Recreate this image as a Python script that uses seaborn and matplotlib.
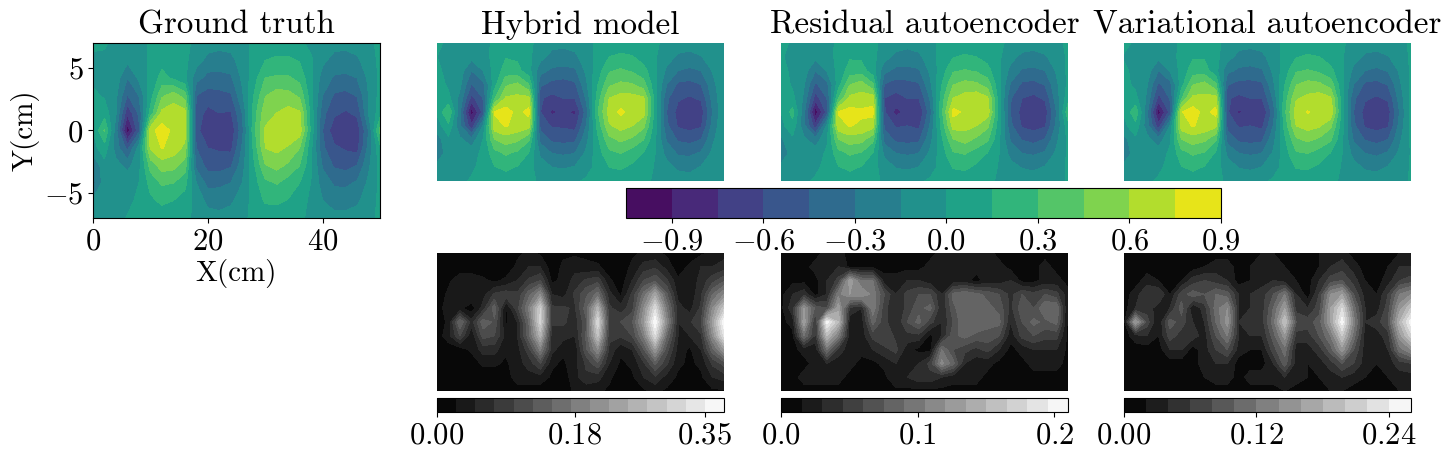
import numpy as np
import seaborn as sns
import matplotlib
matplotlib.use("Agg")
import matplotlib.pyplot as plt

x_cm = list(range(0, 51, 2))
y_cm = [7, 5.6, 4.2, 2.8, 1.4, 0, -1.4, -2.8, -4.2, -5.6, -7]

truth = [
    [5, 3, -7, -10, -8, 3, 4, 5, 4, -4, -8, -10, -9, -6, 3, 5, 6, 5, 3, -4, -8, -10, -10, -8, -4, 4],
    [-5, -5, -8, -12, -8, 3, 10, 8, 3, -8, -20, -22, -20, -8, 5, 15, 18, 18, 14, 2, -12, -20, -22, -18, -7, 3],
    [-3, -3, -8, -30, -12, 5, 20, 12, 3, -25, -35, -35, -33, -12, 8, 30, 32, 32, 25, 3, -22, -32, -33, -30, -12, 3],
    [3, -2, -12, -46, -30, 8, 42, 52, 38, -45, -52, -50, -47, -18, 15, 44, 52, 50, 42, 5, -30, -47, -50, -44, -15, 5],
    [5, 8, -14, -72, -42, 20, 64, 70, 66, -52, -65, -60, -62, -30, 22, 54, 60, 66, 62, 8, -40, -57, -62, -57, -15, 8],
    [0, 32, -24, -100, -50, 70, 82, 72, 68, -55, -72, -72, -72, -35, 24, 62, 70, 72, 68, 10, -45, -70, -72, -70, -30, 35],
    [-5, 8, -22, -50, -8, 62, 76, 68, 56, -45, -60, -62, -64, -28, 18, 60, 64, 58, 45, 3, -42, -57, -62, -66, -25, 10],
    [-30, -5, -10, -20, -5, 36, 52, 50, 38, -35, -50, -52, -47, -22, 12, 44, 50, 42, 30, 2, -32, -47, -50, -45, -18, 5],
    [-35, -8, -5, -5, 0, 20, 32, 30, 20, -15, -35, -33, -30, -15, 8, 26, 31, 23, 15, -1, -22, -32, -33, -28, -12, 3],
    [-12, -8, -5, -4, 3, 12, 18, 15, 8, -5, -20, -22, -18, -8, 5, 17, 18, 14, 6, -3, -15, -22, -22, -18, -7, 3],
    [-5, -5, -5, 1, 5, 7, 7, 5, 3, -3, -8, -10, -8, -3, 3, 6, 6, 5, 3, -4, -8, -10, -10, -8, -4, 3],
]

hybrid = [
    [3, -3, -6, -8, -5, 3, 5, 5, 3, -5, -10, -12, -10, -5, 3, 5, 6, 5, 3, 3, -5, -6, -8, -6, -5, -4],
    [0, -4, -7, -10, -6, 4, 14, 12, 3, -10, -20, -20, -18, -8, 5, 15, 18, 16, 8, 1, -8, -18, -20, -16, -8, -4],
    [2, -3, -8, -30, -15, 5, 22, 20, 5, -25, -33, -35, -33, -12, 8, 28, 32, 28, 20, 3, -18, -30, -33, -30, -14, -4],
    [8, -3, -12, -46, -35, 8, 42, 48, 30, -42, -50, -52, -48, -18, 14, 42, 48, 46, 36, 4, -30, -48, -50, -45, -20, -3],
    [14, 4, -20, -66, -45, 28, 62, 64, 64, -58, -65, -60, -60, -28, 22, 60, 66, 66, 62, 8, -42, -58, -62, -58, -25, -3],
    [2, 30, -28, -98, -55, 76, 82, 70, 80, -60, -78, -72, -78, -38, 28, 66, 78, 70, 66, 8, -45, -66, -70, -68, -30, -2],
    [-8, 12, -28, -72, -15, 70, 76, 70, 66, -50, -62, -62, -66, -30, 20, 58, 66, 60, 48, 5, -42, -62, -66, -62, -25, -2],
    [-22, -4, -12, -24, 0, 44, 52, 48, 32, -35, -48, -50, -48, -20, 12, 40, 48, 42, 30, 2, -32, -47, -50, -45, -18, -2],
    [-25, -8, -6, -6, 3, 24, 32, 26, 14, -18, -30, -32, -30, -12, 8, 26, 30, 22, 14, 0, -20, -32, -33, -28, -12, -2],
    [-10, -7, -5, -3, 5, 14, 18, 14, 5, -8, -15, -17, -14, -6, 5, 15, 17, 12, 5, -1, -10, -18, -20, -14, -6, -2],
    [-5, -5, -4, 2, 5, 7, 8, 6, 3, -2, -3, -3, -2, 2, 4, 6, 6, 4, 3, -2, -4, -7, -8, -5, -3, -2],
]

residual = [
    [4, -2, -6, -9, -5, 3, 5, 5, 3, -4, -8, -10, -9, -4, 3, 5, 6, 5, 4, 3, -4, -7, -8, -6, -4, 3],
    [1, -3, -7, -11, -6, 4, 13, 12, 4, -9, -19, -22, -18, -8, 6, 14, 17, 15, 9, 2, -10, -19, -21, -17, -8, 2],
    [3, -2, -8, -30, -14, 5, 22, 22, 6, -26, -34, -34, -32, -12, 8, 28, 31, 28, 20, 2, -20, -32, -33, -30, -13, 3],
    [8, -2, -14, -48, -34, 8, 44, 52, 32, -46, -52, -50, -47, -18, 14, 44, 50, 48, 38, 3, -32, -48, -50, -44, -18, 3],
    [6, 4, -18, -68, -45, 30, 64, 66, 68, -60, -66, -60, -60, -28, 22, 60, 66, 70, 62, 6, -44, -60, -64, -58, -22, 8],
    [0, 20, -26, -100, -55, 76, 80, 78, 80, -58, -80, -70, -74, -36, 26, 80, 72, 70, 68, 8, -46, -66, -70, -68, -30, 25],
    [-5, 10, -26, -70, -12, 70, 76, 72, 66, -48, -62, -60, -64, -28, 20, 66, 66, 60, 48, 5, -42, -62, -66, -62, -26, 8],
    [-18, -4, -12, -24, -2, 44, 52, 50, 34, -36, -48, -50, -48, -20, 12, 44, 50, 42, 32, 2, -32, -46, -50, -44, -18, 3],
    [-30, -6, -5, -6, 2, 24, 32, 28, 14, -18, -30, -32, -30, -12, 8, 28, 31, 23, 14, 0, -20, -30, -32, -28, -12, 2],
    [-10, -6, -4, -3, 4, 14, 18, 14, 6, -8, -16, -18, -15, -6, 5, 16, 18, 12, 5, -1, -10, -16, -18, -14, -6, 2],
    [-4, -4, -3, 2, 5, 7, 8, 6, 3, -2, -3, -4, -2, 2, 4, 6, 6, 4, 3, -2, -4, -6, -7, -5, -3, 1],
]

variational = [
    [3, -2, -6, -9, -6, 3, 5, 5, 3, -4, -9, -11, -9, -5, 3, 5, 6, 5, 3, 2, -5, -7, -8, -6, -4, 2],
    [-1, -3, -7, -11, -6, 4, 13, 13, 4, -9, -20, -21, -19, -8, 5, 14, 17, 15, 8, 1, -9, -18, -20, -16, -7, 2],
    [2, -3, -8, -30, -14, 5, 23, 22, 5, -26, -33, -35, -32, -12, 8, 28, 31, 27, 19, 2, -19, -30, -33, -29, -13, 2],
    [4, -3, -14, -48, -36, 8, 44, 50, 32, -44, -50, -50, -48, -18, 14, 44, 50, 48, 38, 3, -30, -48, -50, -44, -18, 2],
    [3, 4, -18, -66, -44, 28, 64, 64, 66, -58, -64, -60, -60, -28, 22, 58, 64, 68, 62, 6, -42, -58, -62, -58, -24, 4],
    [1, 26, -26, -98, -55, 74, 82, 70, 80, -58, -78, -68, -76, -38, 26, 68, 76, 70, 72, 8, -45, -66, -70, -67, -30, 6],
    [-4, 10, -24, -70, -15, 68, 76, 70, 64, -50, -62, -60, -64, -30, 20, 60, 66, 62, 48, 5, -42, -62, -66, -62, -25, 3],
    [-20, -4, -10, -24, -2, 44, 52, 48, 32, -36, -48, -50, -48, -20, 12, 42, 48, 42, 32, 2, -32, -46, -50, -45, -18, 2],
    [-28, -6, -5, -6, 2, 24, 32, 28, 12, -18, -30, -32, -30, -13, 8, 28, 30, 23, 14, 0, -20, -30, -33, -28, -12, 1],
    [-10, -6, -4, -3, 4, 14, 18, 14, 6, -8, -16, -18, -15, -6, 5, 16, 17, 12, 5, -1, -10, -17, -19, -14, -6, 1],
    [-4, -4, -3, 2, 5, 7, 8, 6, 3, -2, -4, -5, -3, 2, 4, 6, 6, 4, 3, -2, -4, -7, -8, -5, -3, 1],
]

hybrid_err = [
    [1, 1, 1, 1, 1, 1, 1, 2, 3, 2, 1, 2, 2, 2, 1, 1, 1, 2, 3, 3, 2, 1, 1, 2, 3, 4],
    [1, 1, 1, 1, 1, 1, 1, 3, 5, 5, 1, 3, 4, 3, 3, 1, 1, 3, 6, 7, 4, 1, 3, 5, 5, 6],
    [1, 2, 4, 4, 3, 2, 3, 5, 8, 10, 2, 3, 6, 8, 9, 3, 1, 5, 10, 12, 8, 3, 3, 6, 9, 12],
    [1, 3, 5, 5, 4, 8, 9, 8, 14, 20, 5, 4, 8, 12, 16, 6, 2, 8, 16, 24, 13, 4, 3, 7, 15, 20],
    [1, 4, 3, 1, 6, 14, 2, 9, 18, 30, 8, 8, 7, 14, 26, 8, 6, 9, 20, 32, 17, 6, 4, 8, 20, 29],
    [1, 3, 15, 6, 14, 12, 2, 5, 15, 31, 8, 8, 6, 12, 32, 9, 10, 12, 22, 37, 20, 5, 7, 10, 23, 37],
    [1, 4, 10, 3, 11, 10, 4, 5, 14, 26, 6, 6, 5, 13, 28, 8, 8, 10, 18, 32, 15, 5, 5, 7, 20, 33],
    [1, 1, 1, 3, 6, 6, 3, 4, 9, 18, 6, 3, 3, 12, 20, 7, 3, 5, 12, 22, 11, 4, 2, 5, 14, 22],
    [1, 1, 1, 1, 3, 3, 2, 4, 6, 10, 3, 2, 4, 8, 12, 5, 2, 3, 7, 13, 8, 3, 2, 3, 8, 11],
    [1, 1, 1, 1, 1, 1, 1, 4, 4, 4, 2, 1, 4, 7, 6, 3, 1, 2, 5, 7, 4, 2, 1, 2, 5, 6],
    [1, 1, 1, 1, 1, 1, 1, 1, 1, 1, 1, 1, 3, 3, 3, 2, 1, 1, 2, 3, 2, 1, 1, 1, 2, 2],
]

residual_err = [
    [1, 1, 1, 1, 2, 2, 1, 1, 1, 1, 1, 1, 1, 1, 2, 3, 3, 3, 2, 1, 1, 1, 1, 1, 1, 1],
    [1, 1, 1, 2, 3, 3, 1, 1, 1, 1, 1, 1, 1, 2, 3, 2, 2, 2, 3, 2, 1, 1, 1, 2, 1, 1],
    [1, 1, 1, 1, 3, 5, 13, 9, 9, 2, 2, 3, 3, 2, 3, 2, 2, 1, 2, 2, 3, 1, 1, 2, 2, 1],
    [1, 3, 4, 1, 3, 10, 12, 12, 10, 6, 3, 5, 6, 6, 3, 8, 9, 8, 7, 6, 4, 6, 5, 6, 5, 2],
    [1, 4, 12, 7, 6, 13, 4, 3, 10, 5, 3, 5, 7, 8, 3, 7, 9, 9, 8, 7, 4, 7, 6, 9, 9, 1],
    [1, 2, 13, 4, 20, 15, 2, 2, 8, 5, 3, 6, 8, 5, 3, 6, 9, 9, 8, 8, 3, 6, 8, 7, 8, 1],
    [1, 1, 9, 4, 15, 10, 2, 2, 5, 6, 4, 4, 4, 1, 3, 7, 8, 7, 7, 6, 2, 5, 6, 5, 5, 1],
    [1, 1, 2, 2, 9, 4, 2, 2, 3, 4, 5, 2, 1, 1, 9, 6, 5, 4, 5, 3, 1, 2, 3, 3, 3, 1],
    [1, 1, 1, 2, 3, 2, 2, 1, 1, 2, 3, 3, 3, 5, 11, 8, 3, 2, 2, 1, 1, 1, 2, 2, 2, 1],
    [1, 1, 2, 2, 2, 2, 1, 1, 1, 1, 3, 3, 4, 4, 3, 2, 2, 2, 1, 1, 1, 1, 1, 1, 1, 1],
    [1, 1, 1, 1, 1, 1, 1, 1, 1, 1, 1, 1, 1, 1, 1, 1, 1, 1, 1, 1, 1, 1, 1, 1, 1, 1],
]

variational_err = [
    [1, 1, 1, 1, 1, 1, 1, 1, 1, 1, 1, 1, 2, 2, 1, 1, 1, 2, 3, 3, 1, 1, 1, 2, 2, 2],
    [1, 1, 1, 1, 1, 1, 1, 2, 3, 3, 1, 2, 3, 3, 2, 1, 1, 2, 4, 5, 3, 1, 1, 2, 4, 4],
    [1, 1, 3, 2, 1, 2, 5, 6, 5, 4, 1, 2, 3, 4, 3, 2, 1, 4, 7, 8, 5, 2, 1, 3, 6, 7],
    [1, 3, 6, 6, 2, 7, 9, 8, 10, 9, 4, 4, 5, 8, 12, 4, 1, 6, 14, 16, 8, 3, 2, 6, 12, 14],
    [1, 4, 5, 3, 4, 9, 2, 5, 11, 14, 4, 4, 5, 10, 16, 5, 4, 7, 16, 22, 11, 4, 3, 7, 15, 20],
    [1, 16, 7, 2, 9, 7, 4, 4, 10, 15, 4, 6, 5, 11, 20, 8, 7, 9, 16, 25, 13, 4, 5, 8, 18, 25],
    [1, 3, 4, 2, 7, 5, 5, 3, 8, 12, 4, 4, 4, 9, 15, 5, 5, 8, 12, 20, 11, 3, 3, 5, 15, 21],
    [1, 1, 1, 1, 4, 4, 1, 3, 6, 8, 3, 2, 2, 7, 11, 3, 3, 5, 9, 15, 8, 3, 2, 4, 11, 14],
    [1, 1, 1, 1, 1, 1, 1, 3, 4, 4, 1, 1, 1, 4, 9, 3, 2, 3, 5, 8, 6, 3, 2, 3, 5, 6],
    [1, 1, 1, 1, 1, 1, 1, 2, 3, 3, 1, 3, 3, 3, 4, 3, 2, 2, 3, 4, 3, 2, 1, 2, 3, 3],
    [1, 1, 1, 1, 1, 1, 1, 1, 1, 1, 1, 1, 1, 1, 2, 1, 1, 1, 2, 2, 1, 1, 1, 1, 2, 2],
]

titles = ["Hybrid model", "Residual autoencoder", "Variational autoencoder"]
field_levels = [-1.05, -0.9, -0.75, -0.6, -0.45, -0.3, -0.15, 0.0, 0.15, 0.3, 0.45, 0.6, 0.75, 0.9]
field_ticks = [-0.9, -0.6, -0.3, 0.0, 0.3, 0.6, 0.9]
err_steps = [(0.025, 15), (0.015, 14), (0.02, 13)]
err_ticks = [[0.0, 0.18, 0.35], [0.0, 0.1, 0.2], [0.0, 0.12, 0.24]]
err_labels = [["0.00", "0.18", "0.35"], ["0.0", "0.1", "0.2"], ["0.00", "0.12", "0.24"]]

sns.set_style("ticks", {"text.color": "black", "axes.labelcolor": "black", "axes.edgecolor": "black",
                        "xtick.color": "black", "ytick.color": "black"})
plt.rcParams["font.family"] = ["cmr10", "DejaVu Sans"]
plt.rcParams["mathtext.fontset"] = "cm"
plt.rcParams["axes.unicode_minus"] = False
plt.rcParams["axes.formatter.use_mathtext"] = True
plt.rcParams["axes.linewidth"] = 0.8
plt.rcParams["xtick.major.width"] = 0.8
plt.rcParams["ytick.major.width"] = 0.8
plt.rcParams["xtick.major.size"] = 3.5
plt.rcParams["ytick.major.size"] = 3.5

W, H = 1450, 459
TITLE = 23.8
TICK = 22
LABEL = 21


def axes_px(fig, x0, y0, x1, y1):
    """Add axes from pixel corners (y counted from the top)"""
    return fig.add_axes([x0 / W, 1 - y1 / H, (x1 - x0) / W, (y1 - y0) / H])


def sampled(name, n):
    cmap = sns.color_palette(name, as_cmap=True)
    return [cmap((i + 0.5) / n) for i in range(n)]


def draw_field(ax, values, levels, colors):
    cs = ax.contourf(x_cm, y_cm, np.array(values) / 100, levels=levels, colors=colors)
    ax.set_xlim(0, 50)
    ax.set_ylim(-7, 7)
    return cs


def math_labels(ticks, fmt="%.1f"):
    return ["$" + (fmt % t) + "$" for t in ticks]


fig = plt.figure(figsize=(W / 100, H / 100), dpi=100)
viridis = sampled("viridis", 13)

ax = axes_px(fig, 93, 43, 380, 218)
cs = draw_field(ax, truth, field_levels, viridis)
ax.set_title("Ground truth", fontsize=TITLE, pad=6.5)
ax.set_xticks([0, 20, 40], ["$0$", "$20$", "$40$"], fontsize=TICK)
ax.set_yticks([-5, 0, 5], ["$-5$", "$0$", "$5$"], fontsize=TICK)
ax.set_xlabel("X(cm)", fontsize=LABEL, labelpad=3)
ax.set_ylabel("Y(cm)", fontsize=LABEL, labelpad=3)

top_left = [437, 781, 1124]
fields = [hybrid, residual, variational]
errors = [hybrid_err, residual_err, variational_err]
for i in range(3):
    x0 = top_left[i]
    ax = axes_px(fig, x0, 43, x0 + 287, 181)
    draw_field(ax, fields[i], field_levels, viridis)
    ax.set_title(titles[i], fontsize=TITLE, pad=6.5)
    ax.axis("off")

    step, n = err_steps[i]
    levels = [step * k for k in range(n + 1)]
    ax = axes_px(fig, x0, 253, x0 + 287, 391)
    err_cs = draw_field(ax, errors[i], levels, sampled("gray", n))
    ax.axis("off")

    cax = axes_px(fig, x0, 398, x0 + 287, 412)
    cbar = fig.colorbar(err_cs, cax=cax, orientation="horizontal", ticks=err_ticks[i])
    cbar.ax.set_xticklabels(["$" + s + "$" for s in err_labels[i]], fontsize=TICK)

cax = axes_px(fig, 626, 188, 1221, 218)
cbar = fig.colorbar(cs, cax=cax, orientation="horizontal", ticks=field_ticks)
cbar.ax.set_xticklabels(math_labels(field_ticks), fontsize=TICK)

fig.savefig("out.png", dpi=100)
